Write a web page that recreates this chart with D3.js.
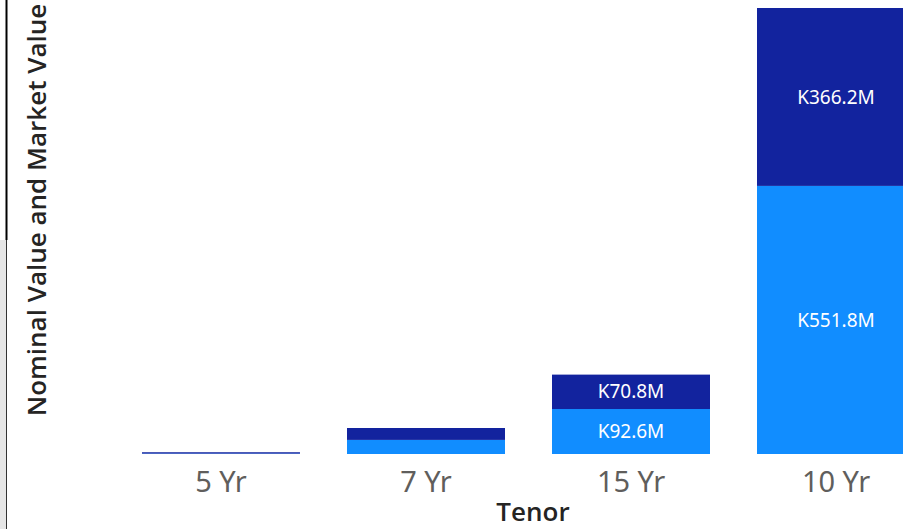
<!DOCTYPE html>
<html>
<head>
<meta charset="utf-8">
<script src="https://cdn.jsdelivr.net/npm/d3@7"></script>
<style>
  html, body { margin: 0; padding: 0; background: #fff; overflow: hidden; }
  svg { display: block; }
</style>
</head>
<body>
<svg id="chart" width="903" height="529"></svg>
<script>
// ---- data ----
const categories = ["5 Yr", "7 Yr", "15 Yr", "10 Yr"];
const nominalValues = [0.8, 29.0, 92.6, 551.8];   // light blue (bottom)
const marketValues  = [2.8, 24.5, 70.8, 366.2];   // dark blue (top)
const seriesNames = ["Nominal Value", "Market Value"];
const yTicks = [0, 200, 400, 600, 800];

const W = 903, H = 529;
const svg = d3.select("#chart");

// left frame decorations
svg.append("rect").attr("x", 0).attr("y", 240).attr("width", 6).attr("height", H - 240).attr("fill", "#E6E6E6");
svg.append("line").attr("x1", 6.5).attr("x2", 6.5).attr("y1", 0).attr("y2", 240).attr("stroke", "#000").attr("stroke-width", 2);
svg.append("line").attr("x1", 6.5).attr("x2", 6.5).attr("y1", 240).attr("y2", H).attr("stroke", "#333").attr("stroke-width", 1);

const table = categories.map((c, i) => ({ cat: c, nominal: nominalValues[i], market: marketValues[i] }));
const stack = d3.stack().keys(["nominal", "market"]);
const stacked = stack(table);

const x = d3.scaleBand()
  .domain(categories)
  .range([118.5, 938.5])
  .paddingInner(0.2293)
  .paddingOuter(0.1146);

const y = d3.scaleLinear()
  .domain([0, 918])
  .range([454, 8]);

const colors = ["#118DFF", "#12239E"];

svg.append("defs").append("clipPath").attr("id", "plotclip")
  .append("rect").attr("x", 0).attr("y", 0).attr("width", W).attr("height", H);

const plot = svg.append("g").attr("clip-path", "url(#plotclip)");

const fmt = v => "K" + d3.format(".1f")(v) + "M";

stacked.forEach((layer, li) => {
  const g = plot.append("g");
  g.selectAll("rect")
    .data(layer)
    .join("rect")
    .attr("x", d => x(d.data.cat))
    .attr("y", d => y(d[1]))
    .attr("width", x.bandwidth())
    .attr("height", d => y(d[0]) - y(d[1]))
    .attr("fill", colors[li]);

  g.selectAll("text")
    .data(layer.filter(d => (y(d[0]) - y(d[1])) > 25))
    .join("text")
    .attr("x", d => x(d.data.cat) + x.bandwidth() / 2)
    .attr("y", d => (y(d[0]) + y(d[1])) / 2)
    .attr("dy", "0.35em")
    .attr("text-anchor", "middle")
    .attr("fill", "#ffffff")
    .style("font-family", "'Segoe UI', 'Noto Sans', sans-serif")
    .style("font-size", "19px")
    .text(d => fmt(d[1] - d[0]));
});

// x axis (no line, no ticks)
const xAxis = d3.axisBottom(x).tickSize(0).tickPadding(0);
const xg = svg.append("g").attr("transform", "translate(0,492)").call(xAxis);
xg.select(".domain").remove();
xg.selectAll("text")
  .attr("dy", 0)
  .attr("y", 0)
  .attr("fill", "#605E5C")
  .style("font-family", "'Segoe UI', 'Noto Sans', sans-serif")
  .style("font-size", "29px");

// axis titles
svg.append("text")
  .attr("x", 533)
  .attr("y", 521)
  .attr("text-anchor", "middle")
  .attr("fill", "#252423")
  .style("font-family", "'Open Sans', 'Noto Sans', sans-serif")
  .style("font-weight", "600")
  .style("font-size", "26px")
  .text("Tenor");

svg.append("text")
  .attr("transform", "translate(46,210) rotate(-90)")
  .attr("text-anchor", "middle")
  .attr("fill", "#252423")
  .style("font-family", "'Open Sans', 'Noto Sans', sans-serif")
  .style("font-weight", "600")
  .style("font-size", "26px")
  .text("Nominal Value and Market Value");
</script>
</body>
</html>
